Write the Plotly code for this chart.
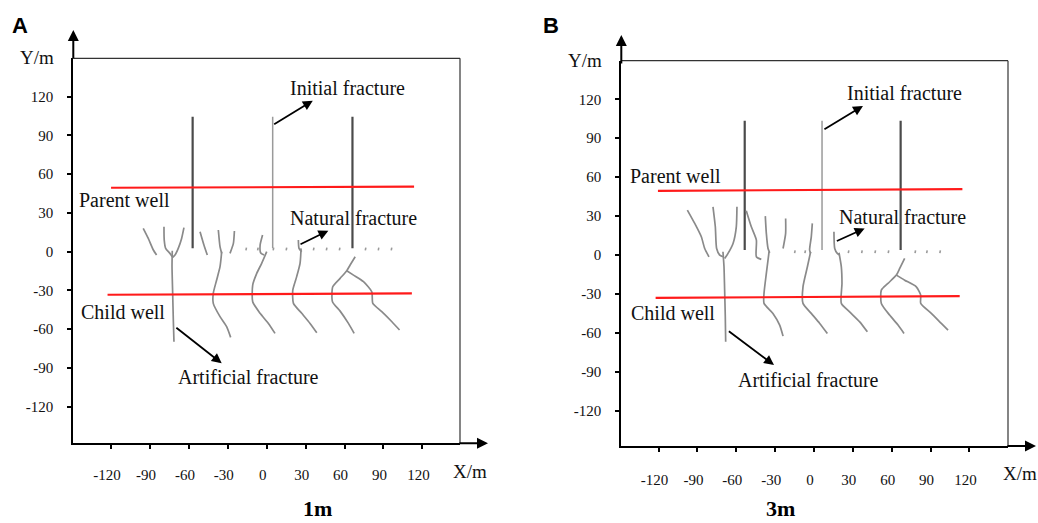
import plotly.graph_objects as go

# ---------------- data: panel A (1m) ----------------
a_parent_well_x = [-120, 113.6]
a_parent_well_y = [49.5, 50.3]
a_child_well_x = [-122.7, 111.9]
a_child_well_y = [-33.3, -32.2]

a_initial_x = [-57.1, 4.6, 66.1]
a_initial_y = [2.6, 104.5]

a_natural_x = [-16, -7, 5, 15, 36, 46, 56, 76, 86, 96]
a_natural_y = 2.0

# artificial fractures: each is a list of (x list, y list) branches
a_frac1 = [
    ([-72.8, -73.0, -72.5, -72.0, -71.5], [0.8, -11.6, -32.2, -52.9, -69.7]),
    ([-95.2, -91.3, -87.4, -84.9], [18.1, 10.3, 1.3, -2.6]),
    ([-79.2, -79.0, -77.9, -74.6, -72.8], [19.3, 9.0, 2.6, -1.3, -3.9]),
    ([-63.8, -65.6, -68.2, -70.7, -72.5], [18.6, 10.3, 2.6, -2.6, -4.4]),
]
a_frac2 = [
    ([-51.4, -48.4, -45.8], [15.5, 5.2, -2.6]),
    ([-37.3, -36.0, -34.7], [16.8, 3.9, -1.3]),
    ([-24.9, -25.7, -28.3], [16.0, 6.4, -1.3]),
    ([-34.7, -36.0, -38.6, -41.2, -41.2, -36.0, -30.9, -27.8],
     [0.0, -11.6, -21.9, -32.2, -40.0, -50.3, -58.0, -66.3]),
]
a_frac3 = [
    ([-3.2, -5.1, -4.6, -2.0], [12.9, 5.0, -1.0, -2.6]),
    ([0.0, -3.9, -7.7, -10.8, -10.8, -5.1, 1.3, 6.4],
     [0.0, -9.0, -16.8, -25.8, -38.7, -47.7, -55.5, -63.2]),
]
a_frac4 = [
    ([24.4, 24.9, 27.0], [9.0, 2.6, 0.0]),
    ([26.5, 25.7, 23.1, 20.1, 20.6, 27.0, 33.4, 38.6],
     [2.6, -9.0, -19.3, -29.7, -40.0, -47.7, -55.5, -62.7]),
]
a_frac5 = [
    ([68.2, 64.3, 61.7, 56.6, 50.9, 50.7, 56.6, 63.0, 67.4],
     [-3.9, -10.3, -14.7, -20.6, -27.1, -38.7, -46.0, -55.5, -63.2]),
    ([61.7, 66.9, 74.6, 81.0, 81.8, 88.7, 96.5, 102.4],
     [-14.7, -18.1, -23.2, -31.0, -40.0, -46.4, -54.2, -60.6]),
]

# ---------------- data: panel B (3m) ----------------
b_parent_well_x = [-120.5, 114.6]
b_parent_well_y = [49.5, 50.8]
b_child_well_x = [-122.3, 112.5]
b_child_well_y = [-32.9, -31.6]

b_initial_x = [-53.5, 6.2, 66.9]
b_initial_y = [3.9, 103.5]

b_natural_x = [-15, -7, 26.5, 36.8, 47.1, 57.3, 78.0, 87.0, 97.2]
b_natural_y = 2.5

b_frac1 = [
    ([-70.3, -69.5, -69.0, -68.5, -68.2], [2.6, -9.0, -27.0, -47.5, -66.8]),
    ([-97.8, -92.1, -87.0, -84.4, -81.1], [34.7, 24.4, 14.1, 5.1, -1.3]),
    ([-78.0, -76.2, -75.2, -72.8, -70.3], [37.2, 21.8, 5.1, 0.0, -1.3]),
    ([-59.5, -60.0, -62.5, -66.4, -69.0], [37.2, 21.8, 9.0, 1.3, -2.6]),
]
b_frac2 = [
    ([-52.3, -48.4, -44.5, -44.5, -40.7], [34.2, 21.8, 11.6, -1.3, -3.3]),
    ([-37.6, -36.8, -35.5, -34.2], [30.0, 16.7, 5.1, 1.8]),
    ([-21.9, -21.9, -23.9], [28.2, 16.7, 5.1]),
    ([-34.7, -36.8, -38.6, -38.6, -31.7, -26.5, -23.9],
     [2.6, -14.1, -29.5, -37.2, -44.9, -53.9, -62.4]),
]
b_frac3 = [
    ([-1.3, -2.1, -3.4, -2.6], [24.4, 14.1, 3.9, 1.3]),
    ([-2.6, -5.1, -8.5, -8.5, -2.1, 4.4, 10.3],
     [2.6, -9.0, -24.4, -37.2, -44.9, -52.6, -60.3]),
]
b_frac4 = [
    ([15.4, 16.0, 18.0, 19.8], [18.0, 5.1, 1.3, 0.0]),
    ([19.3, 21.1, 21.6, 21.1, 27.5, 35.3, 41.2],
     [1.8, -9.0, -21.8, -37.2, -43.7, -51.4, -59.1]),
]
b_frac5 = [
    ([70.0, 66.2, 63.6, 57.1, 52.0, 52.0, 58.4, 64.9, 69.5],
     [-2.6, -10.3, -15.4, -21.8, -27.0, -37.2, -46.2, -53.9, -60.3]),
    ([63.6, 70.0, 79.0, 82.4, 82.4, 90.6, 98.3, 103.5],
     [-15.4, -19.3, -24.4, -30.8, -37.2, -44.9, -52.6, -57.8]),
]

tick_values = [-120, -90, -60, -30, 0, 30, 60, 90, 120]
tick_labels = ["-120", "-90", "-60", "-30", "0", "30", "60", "90", "120"]
panel_letters = ["A", "B"]
panel_titles = ["1m", "3m"]

SERIF = "Liberation Serif, Times New Roman, serif"
FRAC_GRAY = "#8a8a8a"
RED = "#ff1a1a"

fig = go.Figure()


def add_panel(xa, ya, parent_x, parent_y, child_x, child_y, init_x, init_y,
              nat_x, nat_y, fractures):
    # initial fractures (outer two heavier, middle one lighter)
    for i, x0 in enumerate(init_x):
        middle = i == 1
        fig.add_trace(go.Scatter(
            x=[x0, x0], y=init_y, mode="lines", xaxis=xa, yaxis=ya,
            line=dict(color="#9a9a9a" if middle else "#4a4a4a",
                      width=1.5 if middle else 2.2),
            showlegend=False, hoverinfo="skip"))
    # natural fractures: short specks along the line
    nx, ny = [], []
    for x0 in nat_x:
        nx += [x0, x0 + 0.4, None]
        ny += [nat_y - 1.0, nat_y + 1.2, None]
    fig.add_trace(go.Scatter(
        x=nx, y=ny, mode="lines", xaxis=xa, yaxis=ya,
        line=dict(color="#9a9a9a", width=1.6),
        showlegend=False, hoverinfo="skip"))
    # artificial fractures
    for frac in fractures:
        for bx, by in frac:
            fig.add_trace(go.Scatter(
                x=bx, y=by, mode="lines", xaxis=xa, yaxis=ya,
                line=dict(color=FRAC_GRAY, width=1.7, shape="spline", smoothing=0.6),
                showlegend=False, hoverinfo="skip"))
    # wells
    for wx, wy in ((parent_x, parent_y), (child_x, child_y)):
        fig.add_trace(go.Scatter(
            x=wx, y=wy, mode="lines", xaxis=xa, yaxis=ya,
            line=dict(color=RED, width=2.2),
            showlegend=False, hoverinfo="skip"))


add_panel("x", "y", a_parent_well_x, a_parent_well_y, a_child_well_x, a_child_well_y,
          a_initial_x, a_initial_y, a_natural_x, a_natural_y,
          [a_frac1, a_frac2, a_frac3, a_frac4, a_frac5])
add_panel("x2", "y2", b_parent_well_x, b_parent_well_y, b_child_well_x, b_child_well_y,
          b_initial_x, b_initial_y, b_natural_x, b_natural_y,
          [b_frac1, b_frac2, b_frac3, b_frac4, b_frac5])

W, H = 1038, 523


def xdom(l, r):
    return [l / W, r / W]


def ydom(b, t):
    return [1 - b / H, 1 - t / H]


axis_common = dict(
    showgrid=False, zeroline=False, showline=True, linecolor="black", linewidth=2,
    ticks="outside", ticklen=4, tickwidth=1.5, tickcolor="black",
    tickmode="array", tickvals=tick_values, ticktext=tick_labels, fixedrange=True,
    tickfont=dict(family=SERIF, size=15, color="#111"),
)

fig.update_layout(
    width=W, height=H, margin=dict(l=0, r=0, t=0, b=0),
    paper_bgcolor="white", plot_bgcolor="white", showlegend=False,
    xaxis=dict(domain=xdom(73.3, 460), range=[-149.1, 149.0], anchor="y",
               ticklabelstandoff=13, ticklabelshift=-4, **axis_common),
    yaxis=dict(domain=ydom(443.3, 58.3), range=[-148.3, 149.7], anchor="x",
               ticklabelstandoff=11, **axis_common),
    xaxis2=dict(domain=xdom(621.3, 1008), range=[-148.8, 149.8], anchor="y2",
                ticklabelstandoff=15, ticklabelshift=-4, **axis_common),
    yaxis2=dict(domain=ydom(446, 60.7), range=[-147.0, 149.7], anchor="x2",
                ticklabelstandoff=11, **axis_common),
)

shapes = []
annotations = []

panels = [
    dict(xa="x", ya="y", ytip=(443.3 - 30) / (443.3 - 58.3), xtip=(488 - 73.3) / (460 - 73.3),
         letter_x=20, ylab=(37, 57), xlab=(470, 471), title_x=317,
         labels=[("Initial fracture", 16.1, 126.8), ("Parent well", -146.4, 40.0),
                 ("Natural fracture", 16.7, 25.8), ("Child well", -145.0, -46.9),
                 ("Artificial fracture", -70.2, -97.2)],
         arrows=[(4.6, 98.0, 35.5, 116.9), (24.9, 5.2, 47.5, 16.3),
                 (-70.8, -58.0, -34.7, -86.4)]),
    dict(xa="x2", ya="y2", ytip=(446 - 35) / (446 - 60.7), xtip=(1036 - 621.3) / (1008 - 621.3),
         letter_x=551, ylab=(584.7, 60.7), xlab=(1019.7, 473), title_x=780,
         labels=[("Initial fracture", 23.7, 125.1), ("Parent well", -143.6, 61.1),
                 ("Natural fracture", 18.0, 29.5), ("Child well", -142.9, -44.9),
                 ("Artificial fracture", -60.0, -96.3)],
         arrows=[(6.9, 96.3, 37.8, 114.8), (16.5, 10.3, 39.1, 20.5),
                 (-66.9, -57.8, -30.9, -84.7)]),
]

for i, p in enumerate(panels):
    xd, yd = p["xa"] + " domain", p["ya"] + " domain"
    # thin top and right frame lines
    shapes.append(dict(type="line", xref=xd, yref=yd, x0=0, x1=1, y0=1, y1=1,
                       line=dict(color="#333", width=1.2)))
    shapes.append(dict(type="line", xref=xd, yref=yd, x0=1, x1=1, y0=0, y1=1,
                       line=dict(color="#333", width=1.2)))
    # axis arrows
    annotations.append(dict(xref=xd, yref=yd, x=0, y=p["ytip"], ax=0, ay=30,
                            text="", showarrow=True, arrowhead=2, arrowsize=1.1,
                            arrowwidth=2, arrowcolor="black"))
    annotations.append(dict(xref=xd, yref=yd, x=p["xtip"], y=0, ax=-30, ay=0,
                            text="", showarrow=True, arrowhead=2, arrowsize=1.1,
                            arrowwidth=2, arrowcolor="black"))
    # axis names
    annotations.append(dict(xref="paper", yref="paper", x=p["ylab"][0] / W,
                            y=1 - p["ylab"][1] / H, text="Y/m", showarrow=False,
                            xanchor="center", yanchor="middle",
                            font=dict(family=SERIF, size=19, color="#111")))
    annotations.append(dict(xref="paper", yref="paper", x=p["xlab"][0] / W,
                            y=1 - p["xlab"][1] / H, text="X/m", showarrow=False,
                            xanchor="center", yanchor="middle",
                            font=dict(family=SERIF, size=19, color="#111")))
    # panel letter and title
    annotations.append(dict(xref="paper", yref="paper", x=p["letter_x"] / W,
                            y=1 - 25 / H, text="<b>%s</b>" % panel_letters[i],
                            showarrow=False, xanchor="center", yanchor="middle",
                            font=dict(family="Liberation Sans, Arial, sans-serif",
                                      size=22, color="black")))
    annotations.append(dict(xref="paper", yref="paper", x=p["title_x"] / W,
                            y=1 - 508 / H, text="<b>%s</b>" % panel_titles[i],
                            showarrow=False, xanchor="center", yanchor="middle",
                            font=dict(family=SERIF, size=22, color="black")))
    # text labels
    for txt, lx, ly in p["labels"]:
        annotations.append(dict(xref=p["xa"], yref=p["ya"], x=lx, y=ly, text=txt,
                                showarrow=False, xanchor="left", yanchor="middle",
                                font=dict(family=SERIF, size=20, color="#111")))
    # pointer arrows
    for tx, ty, hx, hy in p["arrows"]:
        annotations.append(dict(xref=p["xa"], yref=p["ya"], axref=p["xa"], ayref=p["ya"],
                                x=hx, y=hy, ax=tx, ay=ty, text="", showarrow=True,
                                arrowhead=2, arrowsize=1.1, arrowwidth=1.8,
                                arrowcolor="black"))

fig.update_layout(shapes=shapes, annotations=annotations)

fig.write_html("out.html")
